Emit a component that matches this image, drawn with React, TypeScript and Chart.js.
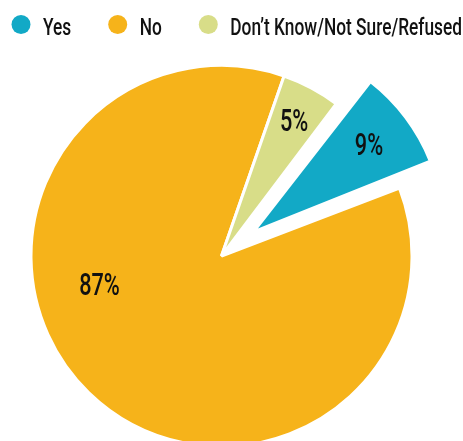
import React, { useEffect, useRef } from "react";
import { Chart, registerables } from "chart.js";

Chart.register(...registerables);

// ---- data ----
const categories = ["Yes", "No", "Don\u2019t Know/Not Sure/Refused"];
const values = [9, 87, 5];
const valueLabels = ["9%", "87%", "5%"];

// ---- styles ----
const sliceColors = ["#12A9C6", "#F6B31A", "#D8DD88"];
const sliceOffsets = [160, 0, 0];
const FONT = "Roboto, 'Liberation Sans', sans-serif";
const labelPlacement = [
  { along: 0.51, radial: 0.756 },
  { along: 0.603, radial: 0.66 },
  { along: 0.52, radial: 0.8 },
];
const legendStyle = {
  left: 11.5,
  right: 462,
  baseline: 35,
  dotY: 24.5,
  dotR: 9.5,
  dotGap: 12.5,
  itemGap: 37,
  size: 24,
};

function radiusFix(arc: any) {
  const off = (arc.options && arc.options.offset) || 0;
  const t = off / 4;
  const fix = 1 - Math.sin(Math.min(Math.PI, arc.circumference || 0));
  return t * fix;
}

// keep exploded slice at the same radius as the others (only translate it)
const keepRadiusPlugin = {
  id: "keepRadius",
  afterDatasetsUpdate(chart: any) {
    const meta = chart.getDatasetMeta(0);
    meta.data.forEach((arc: any) => {
      arc.outerRadius = arc.outerRadius - radiusFix(arc);
    });
  },
};

const pctLabelPlugin = {
  id: "pctLabels",
  afterDatasetsDraw(chart: any) {
    const meta = chart.getDatasetMeta(0);
    const ctx = chart.ctx;
    meta.data.forEach((arc: any, i: number) => {
      const { x, y, startAngle, endAngle } = arc;
      const outerRadius = arc.outerRadius + radiusFix(arc);
      const off = ((arc.options && arc.options.offset) || 0) / 4;
      const half = (startAngle + endAngle) / 2;
      const cx = x + Math.cos(half) * off;
      const cy = y + Math.sin(half) * off;
      const pl = labelPlacement[i];
      const a = startAngle + (endAngle - startAngle) * pl.along;
      const r = outerRadius * pl.radial;
      const lx = cx + Math.cos(a) * r;
      const ly = cy + Math.sin(a) * r;
      ctx.save();
      ctx.translate(lx, ly);
      ctx.scale(0.7, 1);
      ctx.font = `500 31px ${FONT}`;
      ctx.fillStyle = "#111111";
      ctx.textAlign = "center";
      ctx.textBaseline = "middle";
      ctx.fillText(valueLabels[i], 0, 1);
      ctx.restore();
    });
  },
};

// condensed legend drawn on the chart canvas
const condensedLegendPlugin = {
  id: "condensedLegend",
  afterDraw(chart: any) {
    const ctx = chart.ctx;
    const labels: string[] = chart.data.labels;
    const colors: string[] = chart.data.datasets[0].backgroundColor;
    const s = legendStyle;
    ctx.save();
    ctx.font = `500 ${s.size}px ${FONT}`;
    const raw = labels.map((t) => ctx.measureText(t).width);
    const fixed = labels.length * (2 * s.dotR + s.dotGap) + (labels.length - 1) * s.itemGap;
    const sx = (s.right - s.left - fixed) / raw.reduce((a, b) => a + b, 0);
    let x = s.left;
    labels.forEach((t, i) => {
      ctx.fillStyle = colors[i];
      ctx.beginPath();
      ctx.arc(x + s.dotR, s.dotY, s.dotR, 0, Math.PI * 2);
      ctx.fill();
      const tx = x + 2 * s.dotR + s.dotGap;
      ctx.save();
      ctx.translate(tx, s.baseline);
      ctx.scale(sx, 1);
      ctx.fillStyle = "#111111";
      ctx.textAlign = "left";
      ctx.textBaseline = "alphabetic";
      ctx.fillText(t, 0, 0);
      ctx.restore();
      x = tx + raw[i] * sx + s.itemGap;
    });
    ctx.restore();
  },
};

export default function App() {
  const ref = useRef<HTMLCanvasElement>(null);

  useEffect(() => {
    const chart = new Chart(ref.current as HTMLCanvasElement, {
      type: "pie",
      data: {
        labels: categories,
        datasets: [
          {
            data: values,
            backgroundColor: sliceColors,
            borderColor: "#ffffff",
            borderWidth: 3,
            offset: sliceOffsets,
            hoverOffset: 0,
          } as any,
        ],
      },
      options: {
        animation: false,
        responsive: true,
        maintainAspectRatio: false,
        rotation: 37,
        radius: 190.5,
        layout: { padding: { top: 71, left: 0, right: 20, bottom: 0 } },
        plugins: {
          tooltip: { enabled: false },
          legend: { display: false },
        },
      } as any,
      plugins: [keepRadiusPlugin, pctLabelPlugin, condensedLegendPlugin],
    });
    return () => chart.destroy();
  }, []);

  return (
    <div style={{ position: "fixed", left: 0, top: 0, width: 463, height: 441, overflow: "hidden", background: "#fff" }}>
      <canvas ref={ref} />
    </div>
  );
}
